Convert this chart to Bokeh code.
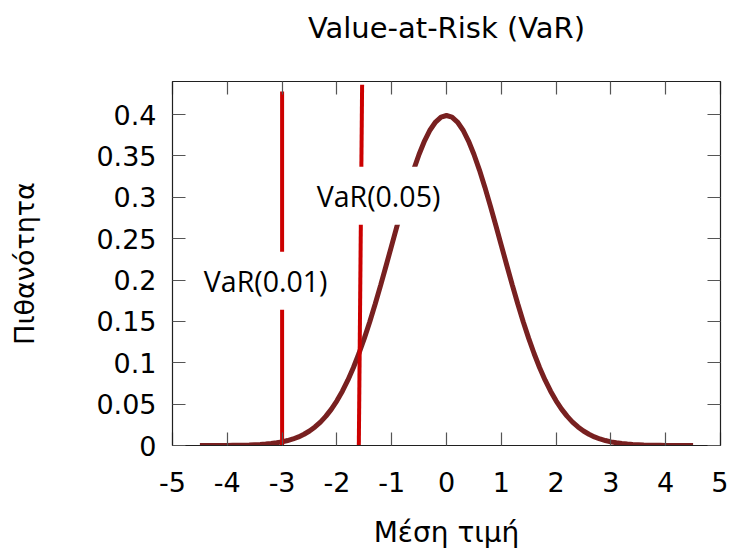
from bokeh.plotting import figure
from bokeh.models import (Range1d, FixedTicker, LinearAxis, CustomJSTickFormatter,
                          Label, ColumnDataSource)
from bokeh.embed import file_html
from bokeh.resources import INLINE

# ---- data ----
x_grid = [round(-4.5 + 0.1 * i, 1) for i in range(91)]
half = [0.3989, 0.3970, 0.3910, 0.3814, 0.3683, 0.3521, 0.3332, 0.3123, 0.2897, 0.2661,
        0.2420, 0.2179, 0.1942, 0.1714, 0.1497, 0.1295, 0.1109, 0.0940, 0.0790, 0.0656,
        0.0540, 0.0440, 0.0355, 0.0283, 0.0224, 0.0175, 0.0136, 0.0104, 0.0079, 0.0060,
        0.0044, 0.0033, 0.0024, 0.0017, 0.0012, 0.0009, 0.0006, 0.0004, 0.0003, 0.0002,
        0.0001, 0.0001, 0.0001, 0.0000, 0.0000, 0.0000]
density = half[::-1] + half[1:]

var_labels = ["VaR(0.01)", "VaR(0.05)"]
var_x_bottom = [-3.0, -1.6]
var_x_top = [-3.0, -1.54]
var_y_top = [0.428, 0.436]
label_x = [-3.3, -1.24]
label_y = [0.199, 0.302]

x_ticks = [-5, -4, -3, -2, -1, 0, 1, 2, 3, 4, 5]
y_ticks = [0, 0.05, 0.1, 0.15, 0.2, 0.25, 0.3, 0.35, 0.4]

title_text = "Value-at-Risk (VaR)"
x_label = "Μέση τιμή"
y_label = "Πιθανότητα"

FONT = "DejaVu Sans"
TICK_SIZE = "27px"

p = figure(width=728, height=551, output_backend="svg", toolbar_location=None,
           x_range=Range1d(-5, 5), y_range=Range1d(0, 0.44),
           min_border_left=172, min_border_right=8, min_border_top=81, min_border_bottom=96,
           x_axis_location=None, y_axis_location=None)
p.grid.visible = False
p.outline_line_color = "#202020"
p.outline_line_width = 1.2
p.background_fill_color = "white"
p.border_fill_color = "white"

fmt = CustomJSTickFormatter(code="return String(Math.round(tick*100)/100);")

def style_axis(ax, show_labels):
    ax.major_tick_in = 13
    ax.major_tick_out = 0
    ax.major_tick_line_width = 1.2
    ax.minor_tick_line_color = None
    ax.major_tick_line_color = "#555555"
    ax.axis_line_color = "#202020"
    ax.major_label_text_font = FONT
    ax.major_label_text_font_size = TICK_SIZE
    ax.major_label_text_color = "black" if show_labels else None

def style_label(ax, text, size, standoff):
    ax.axis_label = text
    ax.axis_label_text_font = FONT
    ax.axis_label_text_font_size = size
    ax.axis_label_text_font_style = "normal"
    ax.axis_label_text_color = "black"
    ax.axis_label_standoff = standoff

xb = LinearAxis(ticker=FixedTicker(ticks=x_ticks), formatter=fmt)
style_axis(xb, True)
xb.major_label_standoff = 26
style_label(xb, x_label, "28px", 21)
p.add_layout(xb, "below")

yl = LinearAxis(ticker=FixedTicker(ticks=y_ticks), formatter=fmt)
style_axis(yl, True)
yl.major_label_standoff = 16
style_label(yl, y_label, "27px", 53)
p.add_layout(yl, "left")

# top axis: mirrored ticks, its label is the chart title
xt = LinearAxis(ticker=FixedTicker(ticks=x_ticks), formatter=fmt)
style_axis(xt, False)
xt.major_label_text_font_size = "0px"
xt.major_label_standoff = 0
style_label(xt, title_text, "29px", 37)
p.add_layout(xt, "above")

yr = LinearAxis(ticker=FixedTicker(ticks=y_ticks), formatter=fmt)
style_axis(yr, False)
yr.major_label_text_font_size = "0px"
yr.major_label_standoff = 0
p.add_layout(yr, "right")

# curve
p.line(x_grid, density, line_color="#782020", line_width=5)

# VaR lines
src = ColumnDataSource(dict(x0=var_x_bottom, x1=var_x_top,
                            y0=[0, 0], y1=var_y_top))
p.segment(x0="x0", y0="y0", x1="x1", y1="y1", source=src,
          line_color="#cc0000", line_width=4)

for t, lx, ly in zip(var_labels, label_x, label_y):
    p.add_layout(Label(x=lx, y=ly, text=t, text_align="center", text_baseline="middle",
                       text_font="Open Sans", text_font_size="28.5px", text_color="black",
                       background_fill_color="white", padding=10))

open("out.html", "w").write(file_html(p, INLINE))
